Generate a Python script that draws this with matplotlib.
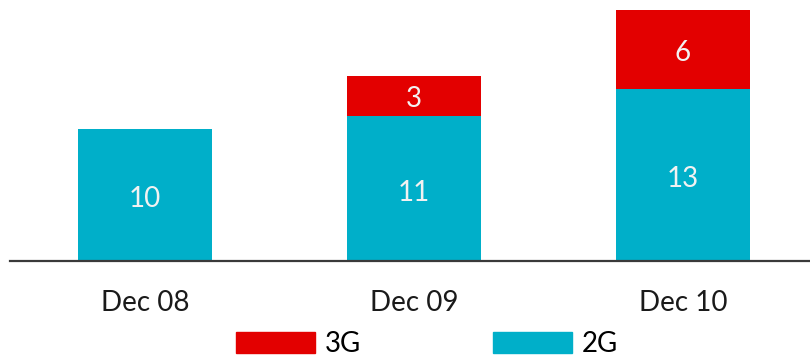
import matplotlib
matplotlib.use("Agg")
import matplotlib.pyplot as plt
from matplotlib.patches import Patch
import numpy as np

categories = ["Dec 08", "Dec 09", "Dec 10"]
series_2g = [10, 11, 13]
series_3g = [0, 3, 6]

c_2g = "#00AFC9"
c_3g = "#E30000"

plt.rcParams['font.family'] = ['Lato', 'DejaVu Sans']

fig = plt.figure(figsize=(8.10, 3.58), dpi=100)
ax = fig.add_axes([10/810, 97/358, 800/810, 261/358])

x = np.arange(len(categories))
w = 0.5
ax.bar(x, series_2g, width=w, color=c_2g, zorder=2)
ax.bar(x, series_3g, width=w, bottom=series_2g, color=c_3g, zorder=2)

for xi, v in zip(x, series_2g):
    ax.text(xi, v / 2 - 0.32, str(v), ha="center", va="center", color="#F2F2F2",
            fontsize=20, fontweight="normal")
for xi, b, v in zip(x, series_2g, series_3g):
    if v > 0:
        ax.text(xi, b + v / 2 - 0.25, str(v), ha="center", va="center", color="#F2F2F2",
                fontsize=20, fontweight="normal")

ax.set_xlim(-0.502, 0.472 + 2)
ax.set_ylim(0, 19.77)
for s in ["top", "right", "left"]:
    ax.spines[s].set_visible(False)
ax.spines["bottom"].set_color("#3A3A3A")
ax.spines["bottom"].set_linewidth(1.6)
ax.set_yticks([])
ax.set_xticks(x)
ax.set_xticklabels(categories, fontsize=20, fontweight="normal", color="#1A1A1A")
ax.tick_params(axis="x", length=0, pad=21)

handles = [Patch(color=c_3g, label="3G"), Patch(color=c_2g, label="2G")]
fig.legend(handles=handles, loc="center", bbox_to_anchor=(427/810, 1 - 344/358),
           ncol=2, frameon=False, handlelength=2.85, handleheight=0.8,
           handletextpad=0.35, columnspacing=4.75, borderpad=0, borderaxespad=0,
           prop={"size": 20, "weight": "normal"})

fig.savefig("out.png", dpi=100)
